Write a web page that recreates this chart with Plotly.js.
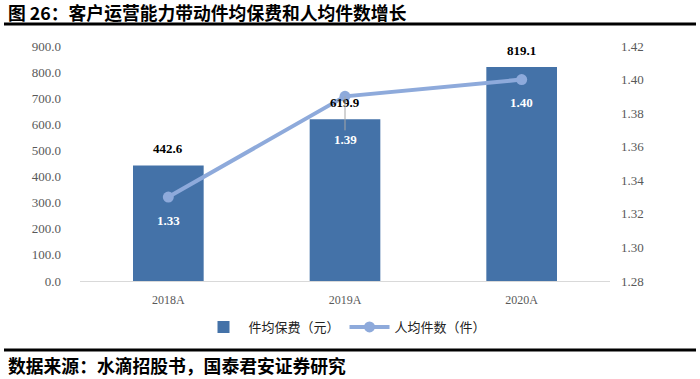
<!DOCTYPE html>
<html>
<head>
<meta charset="utf-8">
<script src="https://cdn.plot.ly/plotly-3.0.1.min.js"></script>
<style>html,body{margin:0;padding:0;background:#fff;}#chart{width:700px;height:379px;}</style>
</head>
<body>
<div id="chart"></div>
<script>
const categories = ['2018A', '2019A', '2020A'];
const premiumPerPolicy = [442.6, 619.9, 819.1];
const policiesPerUser = [1.33, 1.39, 1.40];
const barName = '件均保费（元）';
const lineName = '人均件数（件）';
const titleText = '图 26：客户运营能力带动件均保费和人均件数增长';
const sourceText = '数据来源：水滴招股书，国泰君安证券研究';

const W = 700, H = 379;
const L = 80, R = 90, T = 46, B = 98;
const pw = W - L - R, ph = H - T - B;
const px = x => (x - L) / pw;
const py = y => (H - B - y) / ph;

const cjk = 'Noto Sans CJK SC, sans-serif';
const serif = 'Liberation Serif, serif';

const traces = [
  {
    type: 'bar', x: categories, y: premiumPerPolicy, name: barName,
    marker: {color: '#4472a8'}, width: 0.4, hoverinfo: 'skip'
  },
  {
    type: 'scatter', mode: 'lines+markers', x: categories, y: policiesPerUser, name: lineName,
    yaxis: 'y2', line: {color: '#8eaadb', width: 4}, marker: {color: '#8eaadb', size: 11},
    hoverinfo: 'skip'
  }
];

const annotations = [];
categories.forEach((c, i) => {
  annotations.push({
    x: c, y: premiumPerPolicy[i], xref: 'x', yref: 'y', yshift: 17,
    text: '<b>' + premiumPerPolicy[i].toFixed(1) + '</b>', showarrow: false,
    font: {family: serif, size: 13, color: '#000'}
  });
  const lead = i === 1;
  annotations.push({
    x: c, y: policiesPerUser[i], xref: 'x', yref: 'y2',
    text: '<b>' + policiesPerUser[i].toFixed(2) + '</b>',
    showarrow: lead, arrowhead: 0, arrowwidth: 1, arrowcolor: '#a6a6a6',
    ax: 0, ay: lead ? 43 : 0, yshift: lead ? 0 : -23,
    font: {family: serif, size: 13, color: '#fff'}
  });
});
annotations.push({
  xref: 'paper', yref: 'paper', x: px(6), y: py(12), xanchor: 'left', yanchor: 'middle',
  text: '<b>' + titleText + '</b>', showarrow: false,
  font: {family: cjk, size: 17.8, color: '#000'}
});
annotations.push({
  xref: 'paper', yref: 'paper', x: px(6), y: py(365), xanchor: 'left', yanchor: 'middle',
  text: '<b>' + sourceText + '</b>', showarrow: false,
  font: {family: cjk, size: 17.8, color: '#000'}
});

const shapes = [
  {type: 'line', xref: 'paper', yref: 'paper', x0: px(4), x1: px(696), y0: py(24), y1: py(24), line: {color: '#000', width: 3}},
  {type: 'line', xref: 'paper', yref: 'paper', x0: px(4), x1: px(696), y0: py(350), y1: py(350), line: {color: '#000', width: 3}}
];

const layout = {
  width: W, height: H,
  margin: {l: L, r: R, t: T, b: B, pad: 0},
  paper_bgcolor: '#fff', plot_bgcolor: '#fff',
  showlegend: true,
  legend: {
    orientation: 'h', x: 0.5, xanchor: 'center', y: py(327), yanchor: 'middle',
    font: {family: cjk, size: 13, color: '#222'}, traceorder: 'normal', itemwidth: 40
  },
  xaxis: {
    type: 'category', showgrid: false, zeroline: false, showline: true,
    linecolor: '#d9d9d9', linewidth: 1, ticks: '', ticklabelstandoff: 8,
    tickfont: {family: serif, size: 12, color: '#595959'}
  },
  yaxis: {
    range: [0, 900], dtick: 100, tick0: 0, tickformat: '.1f', showgrid: false, zeroline: false,
    showline: false, ticks: '', ticklabelstandoff: 18,
    tickfont: {family: serif, size: 13, color: '#595959'}
  },
  yaxis2: {
    range: [1.28, 1.42], dtick: 0.02, tick0: 1.28, tickformat: '.2f', overlaying: 'y', side: 'right',
    showgrid: false, zeroline: false, showline: false, ticks: '', ticklabelstandoff: 10,
    tickfont: {family: serif, size: 13, color: '#595959'}
  },
  annotations: annotations,
  shapes: shapes
};

Plotly.newPlot('chart', traces, layout, {displayModeBar: false, staticPlot: true});
</script>
</body>
</html>
